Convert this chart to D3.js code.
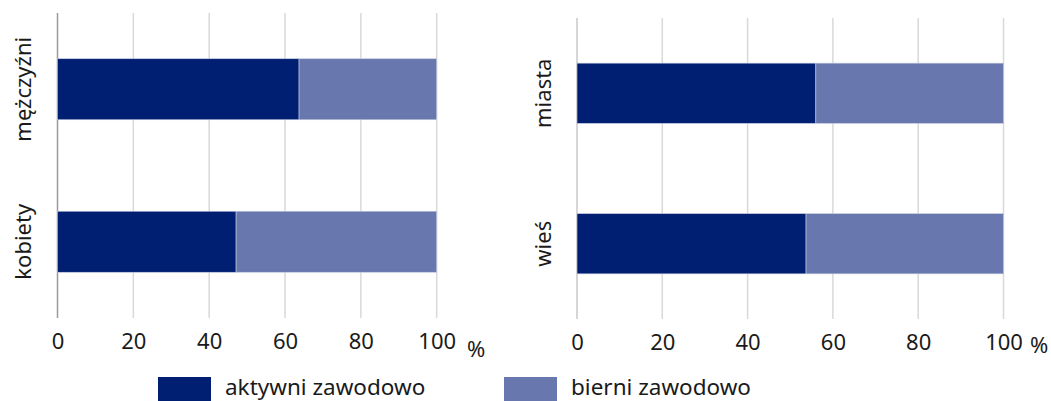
<!DOCTYPE html>
<html>
<head>
<meta charset="utf-8">
<script src="https://cdn.jsdelivr.net/npm/d3@7"></script>
<style>
  body { margin: 0; background: #fff; }
  text { font-family: "Noto Sans", "DejaVu Sans", sans-serif; fill: #1a1a1a; }
</style>
</head>
<body>
<script>
// data
var seriesNames = ["aktywni zawodowo", "bierni zawodowo"];
var colors = ["#001f72", "#6877ad"];
var ticks = [0, 20, 40, 60, 80, 100];

var sexCats = ["mężczyźni", "kobiety"];
var sexActive = [63.7, 47.1];
var sexInactive = [36.3, 52.9];

var placeCats = ["miasta", "wieś"];
var placeActive = [56.0, 53.7];
var placeInactive = [44.0, 46.3];

var width = 1051, height = 401;

var svg = d3.select("body").append("svg")
    .attr("width", width)
    .attr("height", height);

var panels = [
    { cats: sexCats, a: sexActive, b: sexInactive, x0: 57.5, x1: 436.7, y0: 13, y1: 318, axisColor: "#9a9a9a", labelX: 31, pctX: 467, pctY: 357 },
    { cats: placeCats, a: placeActive, b: placeInactive, x0: 577, x1: 1003.5, y0: 18, y1: 319, axisColor: "#c8c8c8", labelX: 551, pctX: 1030, pctY: 353 }
];

panels.forEach(function (p) {
    var rows = p.cats.map(function (c, i) {
        return { cat: c, a: p.a[i], b: p.b[i] };
    });

    var x = d3.scaleLinear().domain([0, 100]).range([p.x0, p.x1]);
    var y = d3.scaleBand().domain(p.cats).range([p.y0, p.y1])
        .paddingInner(0.6).paddingOuter(0.3);

    var g = svg.append("g");

    // grid lines
    g.selectAll("line.grid")
        .data(ticks)
        .enter().append("line")
        .attr("class", "grid")
        .attr("x1", function (d) { return x(d); })
        .attr("x2", function (d) { return x(d); })
        .attr("y1", p.y0)
        .attr("y2", p.y1)
        .attr("stroke", function (d) { return d === 0 ? p.axisColor : "#d9d9d9"; })
        .attr("stroke-width", 1.5);

    var stacked = d3.stack().keys(["a", "b"])(rows);

    g.selectAll("g.series")
        .data(stacked)
        .enter().append("g")
        .attr("fill", function (d, i) { return colors[i]; })
        .selectAll("rect")
        .data(function (d) { return d; })
        .enter().append("rect")
        .attr("x", function (d) { return x(d[0]); })
        .attr("width", function (d) { return x(d[1]) - x(d[0]); })
        .attr("y", function (d) { return y(d.data.cat); })
        .attr("height", y.bandwidth())
        .attr("stroke", "#c5cbe0")
        .attr("stroke-width", 0.6);

    // x axis labels
    var axis = g.append("g")
        .attr("transform", "translate(0," + (p.y1 + 15) + ")")
        .call(d3.axisBottom(x).tickValues(ticks).tickSize(0).tickPadding(0));
    axis.select(".domain").remove();
    axis.selectAll("text")
        .attr("dy", "0.71em")
        .style("font-size", "22px")
        .style("font-family", "\"Noto Sans\", sans-serif")
        .attr("fill", "#1a1a1a");

    g.append("text")
        .attr("x", p.pctX)
        .attr("y", p.pctY)
        .style("font-size", "22px")
        .text("%");

    // category labels, rotated
    g.selectAll("text.cat")
        .data(p.cats)
        .enter().append("text")
        .attr("class", "cat")
        .attr("transform", function (d) {
            return "translate(" + p.labelX + "," + (y(d) + y.bandwidth() / 2) + ") rotate(-90)";
        })
        .attr("text-anchor", "middle")
        .style("font-size", "22px")
        .text(function (d) { return d; });
});

// legend
var legendItems = [
    { name: seriesNames[0], color: colors[0], x: 158 },
    { name: seriesNames[1], color: colors[1], x: 504 }
];
var lg = svg.selectAll("g.legend")
    .data(legendItems)
    .enter().append("g")
    .attr("transform", function (d) { return "translate(" + d.x + ",377)"; });
lg.append("rect")
    .attr("width", 53)
    .attr("height", 26)
    .attr("fill", function (d) { return d.color; });
lg.append("text")
    .attr("x", 67)
    .attr("y", 18)
    .style("font-size", "22.5px")
    .text(function (d) { return d.name; });
</script>
</body>
</html>
